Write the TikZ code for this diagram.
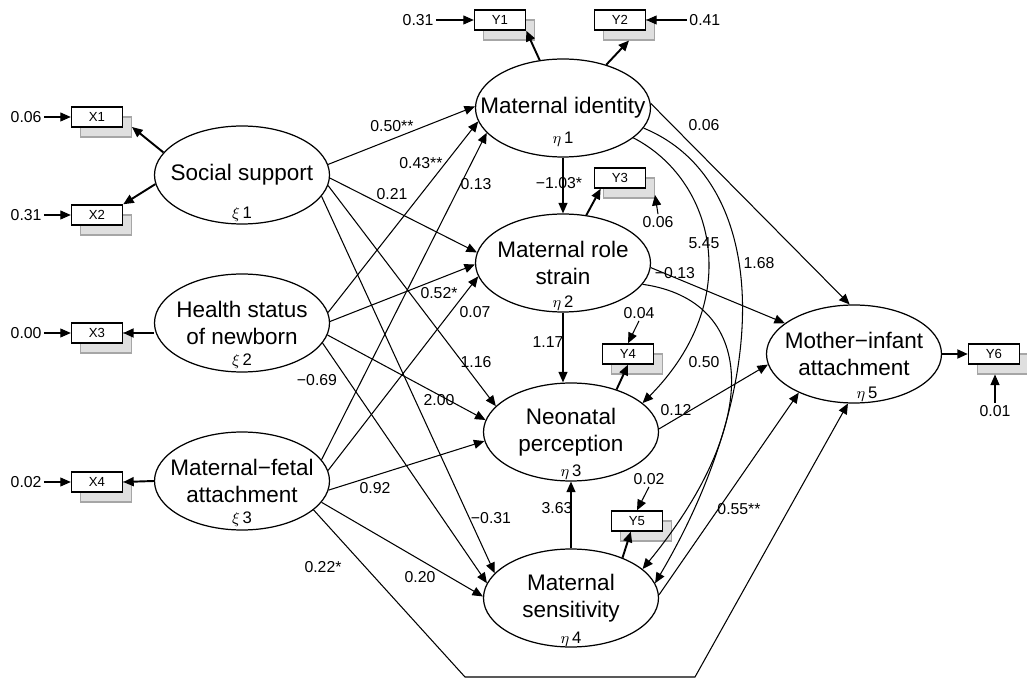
\documentclass[tikz,border=0pt]{standalone}
\usepackage{fontspec}
\setmainfont{Liberation Sans}
\usetikzlibrary{positioning,arrows.meta,shapes.geometric}
\tikzset{
  sem/.style={>={Triangle[length=2.1mm,width=1.8mm]},
    line width=0.6pt,
    x=0.2mm, y=-0.2mm},
  latent/.style={ellipse,draw,line width=0.7pt,minimum width=35mm,minimum height=19.6mm,
    inner xsep=-20pt,inner ysep=0pt,align=center,font=\fontsize{12.8}{15.5}\selectfont},
  idx/.style={anchor=base,inner sep=0pt,font=\fontsize{9.5}{10}\selectfont},
  obs/.style={rectangle,draw,fill=white,line width=0.8pt,minimum width=10.2mm,
    minimum height=4mm,inner sep=0pt,font=\fontsize{7.5}{8}\selectfont},
  obsshadow/.style={rectangle,draw=gray!70,fill=gray!25,minimum width=10.2mm,
    minimum height=4mm,inner sep=0pt},
  coef/.style={inner sep=1pt,font=\fontsize{9}{10}\selectfont},
  measure/.style={->,line width=1.1pt}}

\begin{document}
\begin{tikzpicture}[sem]
  \useasboundingbox (0,0) rectangle (1027,678);
  % latent variables
  \node[latent, label={[idx,yshift=1.2mm]below:$\xi\,$1}] (ss) at (242,175) {Social support};
  \node[latent, label={[idx,yshift=1.4mm]below:$\xi\,$2}] (hs) at (242,323) {Health status\\of newborn};
  \node[latent, label={[idx,yshift=1.5mm]below:$\xi\,$3}] (mf) at (242,481) {Maternal−fetal\\attachment};
  \node[latent, label={[idx,yshift=2.8mm]below:$\eta\,$1}] (mi) at (563,108) {Maternal identity};
  \node[latent, label={[idx,yshift=1mm]below:$\eta\,$2}] (mrs) at (563,263) {Maternal role\\strain};
  \node[latent, label={[idx,yshift=1mm]below:$\eta\,$3}] (np) at (571,432) {Neonatal\\perception};
  \node[latent, label={[idx,yshift=0.8mm]below:$\eta\,$4}] (ms) at (571,598) {Maternal\\sensitivity};
  \node[latent, label={[idx,yshift=1mm,xshift=2.6mm]below:$\eta\,$5}] (mia) at (854,354) {Mother−infant\\attachment};

  % indicators with shadows
  \foreach \nm/\txt/\xx/\yy in {x1/X1/97/117, x2/X2/97/215, x3/X3/97/333, x4/X4/97/482,
      y1/Y1/500/20, y2/Y2/620/20, y3/Y3/620/178, y4/Y4/628/354, y5/Y5/637/521, y6/Y6/994/354}{
    \node[obsshadow] (s\nm) at (\xx+9,\yy+10) {};
    \node[obs] (\nm) at (\xx,\yy) {\txt};
  }

  % error terms
  \foreach \nm/\val in {x1/0.06, x2/0.31, x3/0.00, x4/0.02}{
    \node[coef, left=5.4mm of \nm] (e\nm) {\val};
    \draw[->] (e\nm) -- (\nm);
  }
  \node[coef, left=7.6mm of y1] (ey1) {0.31};
  \node[coef, right=8.2mm of y2] (ey2) {0.41};
  \node[coef] (ey3) at (658,222) {0.06};
  \node[coef] (ey4) at (639,313) {0.04};
  \node[coef] (ey5) at (649,479) {0.02};
  \node[coef] (ey6) at (995,411) {0.01};
  \draw[->] (ey1) -- (y1);
  \draw[->] (ey2) -- (y2);
  \draw[->] (ey3.north) -- (sy3.-15);
  \draw[->] (ey4.south) -- (y4.north);
  \draw[->] (ey5.south) -- (y5.north);
  \draw[->] (ey6.north) -- (ey6.north |- sy6.south);

  % measurement
  \draw[measure] (ss.164) -- (sx1.east);
  \draw[measure] (ss.186) -- (x2.north east);
  \draw[measure] (x3.east -| hs.west) -- (x3.east);
  \draw[measure] (mf.west) -- (x4.east);
  \draw[measure] (mi.116) -- (y1.south east);
  \draw[measure] (mi.45) -- (sy2.south);
  \draw[measure] (mrs.64) -- (y3.209);
  \draw[measure] (np.43) -- (y4.south);
  \draw[measure] (ms.38) -- (y5.-120);
  \draw[measure] (mia.east) -- (y6.west);

  % structural paths
  \draw[->] (ss.7) -- (mi.179);
  \draw[->] (ss.-2) -- (mrs.173);
  \draw[->] (ss.-7) -- (np.161);
  \draw[->] (ss.-15) -- (ms.162);
  \draw[->] (hs.7) -- (mi.189);
  \draw[->] (hs.1) -- (mrs.181);
  \draw[->] (hs.-8) -- (np.172);
  \draw[->] (hs.-14) -- (ms.170);
  \draw[->] (mf.15) -- (mi.198);
  \draw[->] (mf.7) -- (mrs.189);
  \draw[->] (mf.-6) -- (np.186);
  \draw[->] (mf.-15) -- (ms.179);
  \coordinate (b1) at (465,677);
  \coordinate (b2) at (695,677);
  \draw[->] (mf.-22) -- (b1) -- (b2) -- (mia.-97);
  \draw[->] (mi) -- (mrs);
  \draw[->] (mi.3) -- (mia.95);
  \draw[->] (mi.-23) .. controls (715,180) and (745,300) .. (np.22);
  \draw[->] (mi.-14) .. controls (770,180) and (775,380) .. (ms.10);
  \draw[->] (mrs.south) -- (mrs.south |- np.north);
  \draw[->] (mrs.-3) -- (mia.156);
  \draw[->] (mrs.-15) .. controls (755,300) and (765,420) .. (ms.22);
  \draw[->] (np.2) -- (mia.187);
  \draw[->] (ms) -- (np);
  \draw[->] (ms.2) -- (mia.215);

  % coefficients
  \node[coef] (lssmi) at (392,126) {0.50**};
  \node[coef] (lhsmi) at (421,163) {0.43**};
  \node[coef] (lssmrs) at (392,194) {0.21};
  \node[coef] (lmfmi) at (476,184) {0.13};
  \node[coef] (lmimrs) at (559,183) {−1.03*};
  \node[coef] (lmimia) at (704,125) {0.06};
  \node[coef] (lminp) at (704,243) {5.45};
  \node[coef] (lmims) at (759,263) {1.68};
  \node[coef] (lmrsmia) at (675,273) {−0.13};
  \node[coef] (lhsmrs) at (439,293) {0.52*};
  \node[coef] (lmfmrs) at (475,312) {0.07};
  \node[coef] (lmrsnp) at (548,342) {1.17};
  \node[coef] (lssnp) at (476,362) {1.16};
  \node[coef] (lmrsms) at (704,362) {0.50};
  \node[coef] (lhsnp) at (439,400) {2.00};
  \node[coef] (lnpmia) at (676,410) {0.12};
  \node[coef] (lhsms) at (317,380) {−0.69};
  \node[coef] (lmfnp) at (375,488) {0.92};
  \node[coef] (lmsnp) at (557,508) {3.63};
  \node[coef] (lssms) at (491,518) {−0.31};
  \node[coef] (lmsmia) at (739,509) {0.55**};
  \node[coef] (lmfms) at (420,577) {0.20};
  \node[coef] (lmfmia) at (323,567) {0.22*};
\end{tikzpicture}
\end{document}
